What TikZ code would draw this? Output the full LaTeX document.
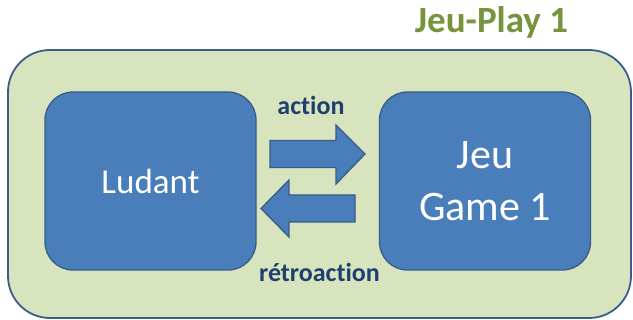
\documentclass[tikz,border=0pt]{standalone}
\usepackage{fontspec}
\setmainfont{Carlito}[Ligatures=NoCommon]
\usetikzlibrary{positioning}
\definecolor{playgreen}{RGB}{119,147,60}
\definecolor{playfill}{RGB}{215,228,189}
\definecolor{edgeblue}{RGB}{56,93,138}
\definecolor{boxblue}{RGB}{74,126,187}
\definecolor{labelblue}{RGB}{31,63,112}
\tikzset{
  playbox/.style={draw=edgeblue, line width=1.8pt, fill=playfill,
                  rounded corners=42pt, inner sep=0pt},
  gamebox/.style={draw=edgeblue, line width=1.3pt, fill=boxblue,
                  rounded corners=28pt, text=white, align=center,
                  minimum width=211pt, minimum height=178pt, inner sep=0pt},
  flowlabel/.style={font=\fontsize{26}{30}\selectfont\bfseries, text=labelblue},
  flowarrow/.style={draw=edgeblue, line width=1.3pt, fill=boxblue, line join=miter}
}

\begin{document}
\begin{tikzpicture}[x=1pt,y=-1pt]
\useasboundingbox (0,0) rectangle (633,320);

% ── Play frame ────────────────────────────────────────────────────────────────
\node[playbox, minimum width=623pt, minimum height=268pt] (play) at (319.5,184) {};
\node[font=\fontsize{37}{44}\selectfont\bfseries, text=playgreen] (title)
      at (491.5,22) {Jeu-Play 1};

% ── Player and game ───────────────────────────────────────────────────────────
\node[gamebox, font=\fontsize{35}{42}\selectfont] (ludant) at (150.5,181) {Ludant};
\node[gamebox, font=\fontsize{42}{52}\selectfont] (game) at (485,181) {Jeu\\Game 1};

% ── Exchange arrows ───────────────────────────────────────────────────────────
\draw[flowarrow] (270,140.5) -- (336,140.5) -- (336,125) -- (365,154)
      -- (336,184) -- (336,167.5) -- (270,167.5) -- cycle;
\draw[flowarrow] (355,195) -- (289,195) -- (289,180) -- (261,208.5)
      -- (289,237) -- (289,222) -- (355,222) -- cycle;

\node[flowlabel] (action) at (311,105) {action};
\node[flowlabel] (feedback) at (319.5,272) {rétroaction};

\end{tikzpicture}
\end{document}
